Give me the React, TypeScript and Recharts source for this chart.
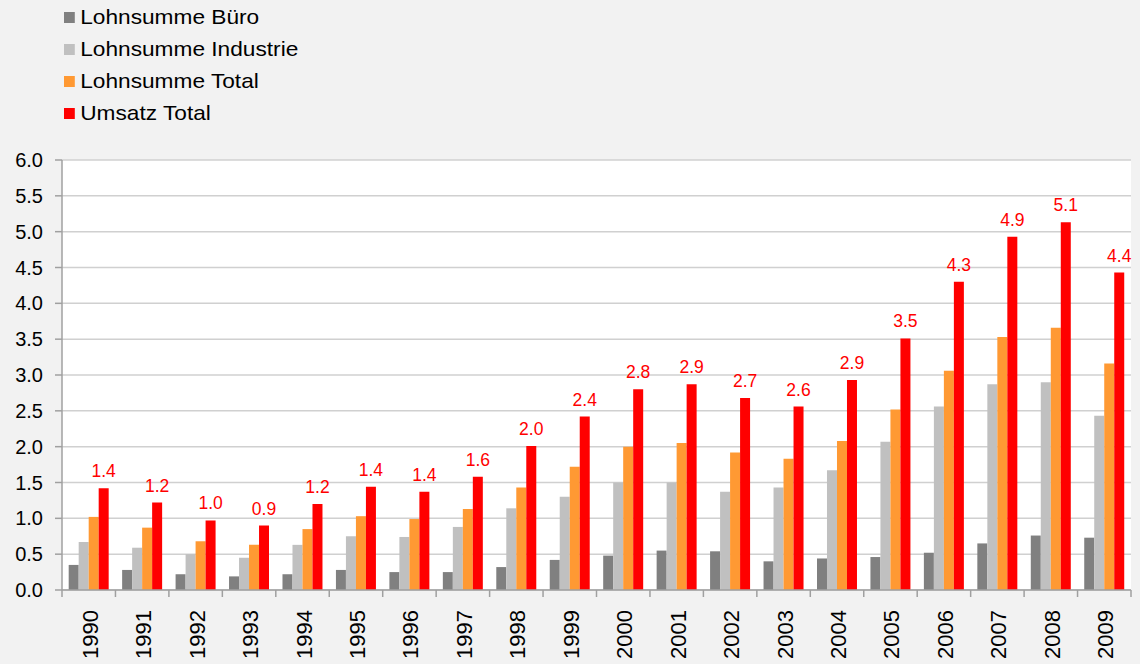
import React from "react";
import { BarChart, Bar, XAxis, YAxis, CartesianGrid, Legend, LabelList } from "recharts";

const years = ["1990","1991","1992","1993","1994","1995","1996","1997","1998","1999","2000","2001","2002","2003","2004","2005","2006","2007","2008","2009"];
const lohnBuero = [0.35,0.28,0.22,0.19,0.22,0.28,0.25,0.25,0.32,0.42,0.48,0.55,0.54,0.40,0.44,0.46,0.52,0.65,0.76,0.73];
const lohnIndustrie = [0.67,0.59,0.50,0.45,0.63,0.75,0.74,0.88,1.14,1.30,1.50,1.50,1.37,1.43,1.67,2.07,2.56,2.87,2.90,2.43];
const lohnTotal = [1.02,0.87,0.68,0.63,0.85,1.03,0.99,1.13,1.43,1.72,2.00,2.05,1.92,1.83,2.08,2.52,3.06,3.53,3.66,3.16];
const umsatzTotal = [1.42,1.22,0.97,0.90,1.20,1.44,1.37,1.58,2.01,2.42,2.80,2.87,2.68,2.56,2.93,3.51,4.30,4.93,5.13,4.43];
const yTicks = [0,0.5,1,1.5,2,2.5,3,3.5,4,4.5,5,5.5,6];

const series = [
  { key: "buero", name: "Lohnsumme Büro", color: "#808080" },
  { key: "industrie", name: "Lohnsumme Industrie", color: "#c0c0c0" },
  { key: "lohnTotal", name: "Lohnsumme Total", color: "#ff9933" },
  { key: "umsatz", name: "Umsatz Total", color: "#ff0000" },
];

const data = years.map((y, i) => ({
  year: y,
  buero: lohnBuero[i],
  industrie: lohnIndustrie[i],
  lohnTotal: lohnTotal[i],
  umsatz: umsatzTotal[i],
}));

const FONT = "'Liberation Sans', Arial, sans-serif";

const XTick = (props: any) => {
  const { x, y, payload, index } = props;
  const off = payload.offset || 0;
  const isLast = index === years.length - 1;
  const tx = x + 9;
  const ty = y + 12;
  return (
    <g>
      <line x1={x - off} y1={y - 8} x2={x - off} y2={y - 1} stroke="#a0a0a0" strokeWidth={1.5} />
      {isLast && <line x1={x + off} y1={y - 8} x2={x + off} y2={y - 1} stroke="#a0a0a0" strokeWidth={1.5} />}
      <text x={tx} y={ty} transform={`rotate(-90 ${tx} ${ty})`} textAnchor="end" fontSize={22} fill="#000" fontFamily={FONT}>
        {payload.value}
      </text>
    </g>
  );
};

const LegendContent = () => (
  <div style={{ fontFamily: FONT, fontSize: 21, color: "#000", transform: "scaleX(1.08)", transformOrigin: "left top" }}>
    {series.map((s) => (
      <div key={s.key} style={{ height: 32, lineHeight: "32px", display: "flex", alignItems: "center" }}>
        <span style={{ display: "inline-block", width: 10, height: 11, background: s.color, marginRight: 5 }} />
        <span>{s.name}</span>
      </div>
    ))}
  </div>
);

export default function App() {
  return (
    <div style={{ position: "absolute", left: 0, top: 0, width: 1140, height: 664, background: "#f2f2f2" }}>
      <BarChart
        width={1140}
        height={664}
        data={data}
        margin={{ top: 160, right: 9, left: 0, bottom: 0 }}
        barCategoryGap="12.5%"
        barGap={0}
      >
        <CartesianGrid vertical={false} stroke="#d0d0d0" strokeWidth={1.5} fill="#ffffff" />
        <Legend
          layout="horizontal"
          verticalAlign="middle"
          align="center"
          content={<LegendContent />}
          wrapperStyle={{ position: "absolute", top: 1, left: 64, width: 300, height: 130 }}
        />
        <XAxis
          dataKey="year"
          height={74}
          tick={<XTick />}
          tickLine={false}
          interval={0}
          axisLine={{ stroke: "#a0a0a0", strokeWidth: 1.5 }}
        />
        <YAxis
          width={62}
          domain={[0, 6]}
          ticks={yTicks}
          interval={0}
          tickFormatter={(v: number) => v.toFixed(1)}
          tick={{ fontSize: 20, fill: "#000", fontFamily: FONT }}
          tickSize={7}
          tickMargin={12}
          tickLine={{ stroke: "#a0a0a0", strokeWidth: 1.5 }}
          axisLine={{ stroke: "#a0a0a0", strokeWidth: 1.5 }}
        />
        {series.map((s) => (
          <Bar key={s.key} dataKey={s.key} name={s.name} fill={s.color} isAnimationActive={false}>
            {s.key === "umsatz" && (
              <LabelList
                dataKey="umsatz"
                position="top"
                offset={11}
                formatter={(v: number) => v.toFixed(1)}
                style={{ fill: "#ff0000", fontSize: 17.5, fontFamily: FONT }}
              />
            )}
          </Bar>
        ))}
      </BarChart>
    </div>
  );
}
